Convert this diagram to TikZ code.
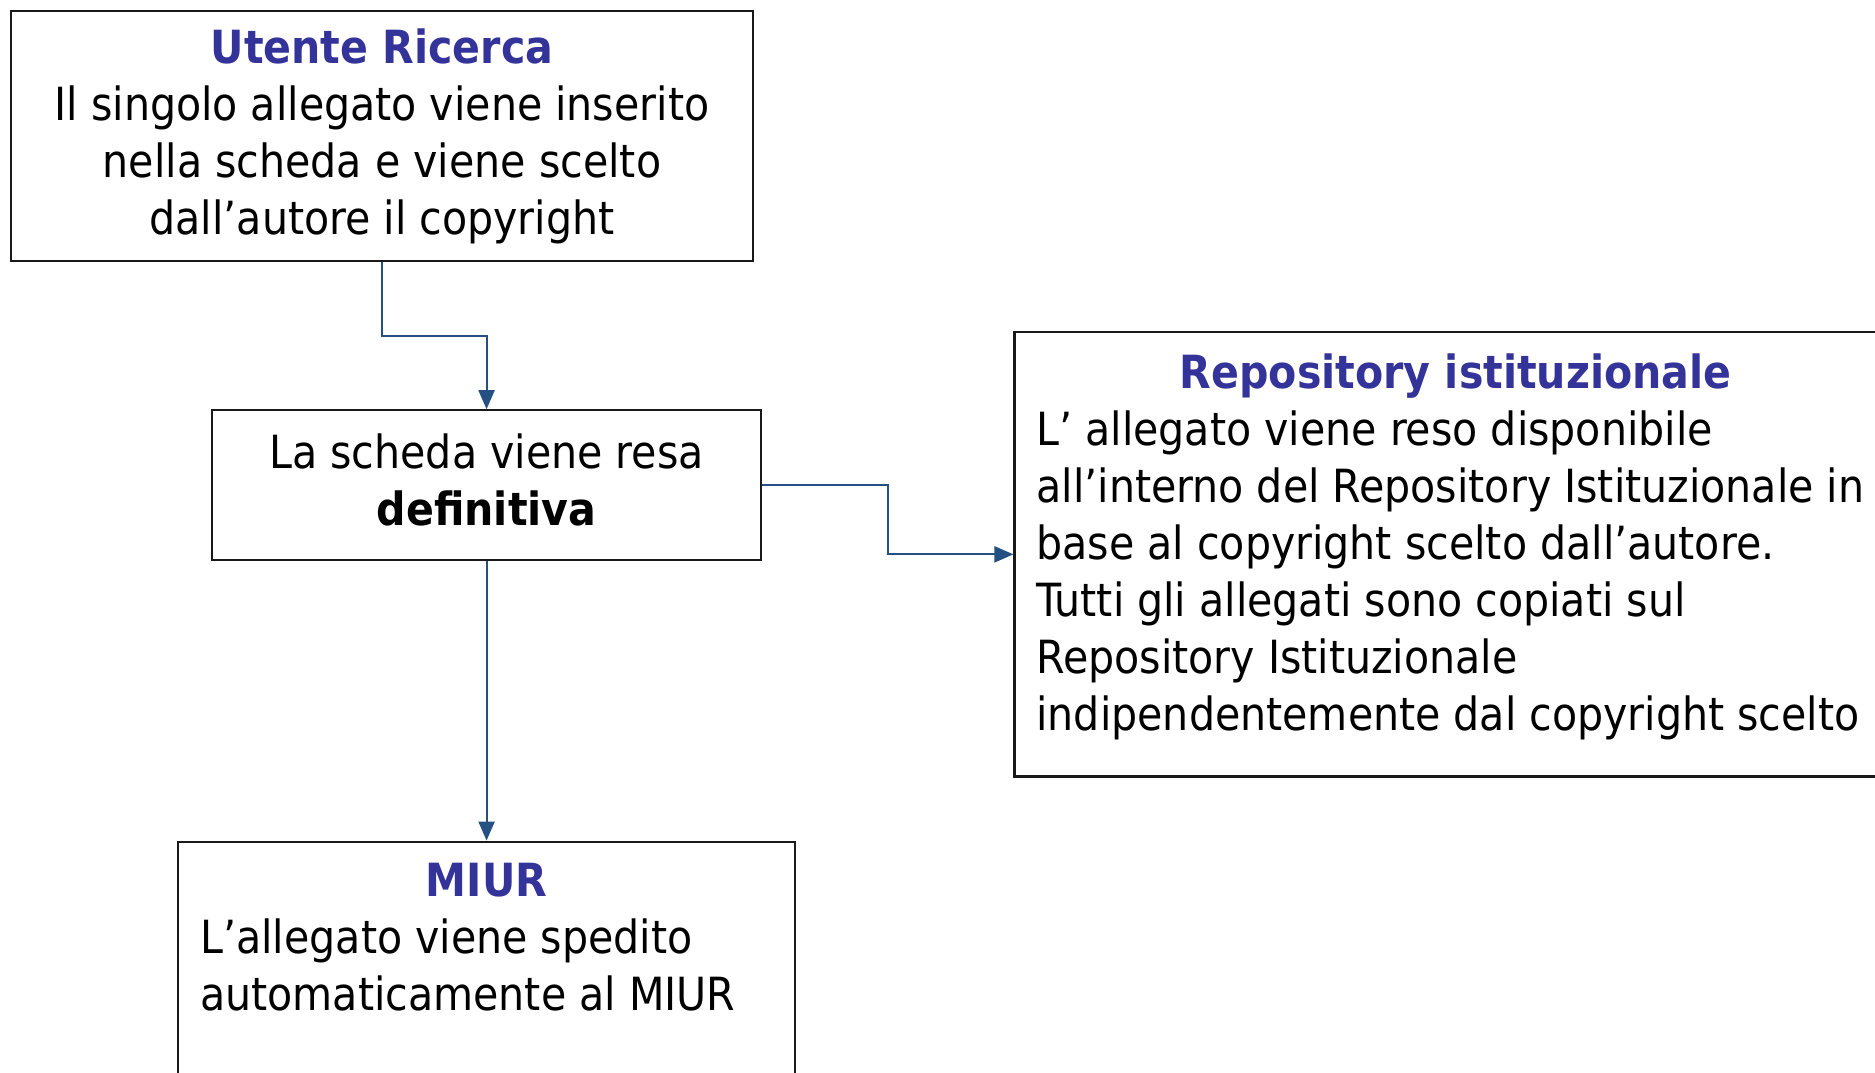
\documentclass[tikz,border=0pt]{standalone}
\usepackage{fontspec}
\setmainfont{DejaVu Sans Condensed}
\usepackage{xcolor}
\usetikzlibrary{positioning,arrows.meta}

\definecolor{titleblue}{RGB}{51,51,153}
\definecolor{arrowblue}{RGB}{37,80,130}
\newcommand{\boxtitle}[1]{\textcolor{titleblue}{\textbf{#1}}}

\begin{document}
\begin{tikzpicture}[x=0.01cm,y=-0.01cm,
	box/.style={draw=black!90,line width=0.6pt,inner xsep=0.22cm,inner ysep=0.22cm,font=\fontsize{13}{16.2}\selectfont},
	flow/.style={draw=arrowblue,line width=0.6pt,-{Triangle[length=1.9mm,width=1.6mm]}}]
		\useasboundingbox (0,0) rectangle (1875,1072);
		\clip (0,0) rectangle (1875,1072);
		
		\node[box,inner ysep=0.08cm,minimum width=7.42cm,minimum height=2.5cm,align=center] (utente) at (382,136) {\boxtitle{Utente Ricerca}\\Il singolo allegato viene inserito\\nella scheda e viene scelto\\dall’autore il copyright};
		
		\node[box,inner ysep=0.08cm,minimum width=5.49cm,minimum height=1.5cm,align=center,below=1.47cm of utente,xshift=1.045cm] (scheda) {La scheda viene resa\\\textbf{definitiva}\vphantom{\rule[-0.12cm]{0pt}{0pt}}};
		
		\node[box,right=2.51cm of scheda,yshift=-0.69cm] (repo) {\parbox[t][4.0cm][t]{8.38cm}{\centering\boxtitle{Repository istituzionale}\par\raggedright L’ allegato viene reso disponibile\\all’interno del Repository Istituzionale in\\base al copyright scelto dall’autore.\\Tutti gli allegati sono copiati sul\\Repository Istituzionale\\indipendentemente dal copyright scelto}};
		
		\node[box,below=2.79cm of scheda] (miur) {\parbox[t][3.0cm][t]{5.72cm}{\centering\boxtitle{MIUR}\par\raggedright L’allegato viene spedito\\automaticamente al MIUR}};
		
		\draw[flow] (utente.south) -- ++(0,74) -| (scheda.north);
		\draw[flow] (scheda.east) -- ++(126,0) |- (repo.west);
		\draw[flow] (scheda.south) -- (miur.north);
	\end{tikzpicture}
\end{document}
